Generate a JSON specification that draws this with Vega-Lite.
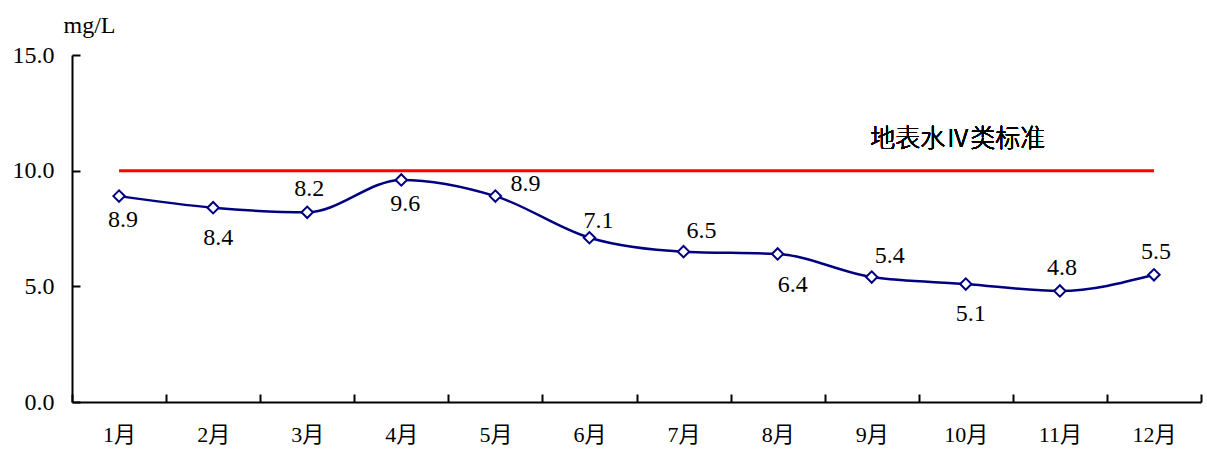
{
  "$schema": "https://vega.github.io/schema/vega-lite/v6.json",
  "autosize": {"type": "none"},
  "padding": {"left": 72, "top": 55, "right": 6, "bottom": 48},
  "width": 1129,
  "height": 347,
  "background": "white",
  "config": {
    "view": {"stroke": null},
    "font": "Liberation Serif",
    "axis": {"grid": false}
  },
  "data": {
    "values": [
      {"month": "1月", "value": 8.9},
      {"month": "2月", "value": 8.4},
      {"month": "3月", "value": 8.2},
      {"month": "4月", "value": 9.6},
      {"month": "5月", "value": 8.9},
      {"month": "6月", "value": 7.1},
      {"month": "7月", "value": 6.5},
      {"month": "8月", "value": 6.4},
      {"month": "9月", "value": 5.4},
      {"month": "10月", "value": 5.1},
      {"month": "11月", "value": 4.8},
      {"month": "12月", "value": 5.5}
    ]
  },
  "encoding": {
    "x": {
      "field": "month", "type": "ordinal", "sort": null,
      "scale": {"paddingInner": 0, "paddingOuter": 0},
      "axis": {
        "title": null, "labelAngle": 0, "tickBand": "extent",
        "domainColor": "black", "domainWidth": 2, "tickColor": "black", "tickWidth": 2,
        "tickSize": -8, "labelPadding": 30, "labelFontSize": 22, "labelColor": "black",
        "labelFont": "Liberation Serif, Noto Sans CJK SC"
      }
    },
    "y": {
      "field": "value", "type": "quantitative",
      "scale": {"domain": [0, 15], "nice": false},
      "axis": {
        "values": [0, 5, 10, 15], "format": ".1f",
        "title": "mg/L", "titleAngle": 0, "titleX": 17, "titleY": -23,
        "titleAlign": "center", "titleBaseline": "alphabetic",
        "titleFontSize": 24, "titleFontWeight": "normal", "titleColor": "black",
        "titleFont": "Liberation Serif",
        "domainColor": "black", "domainWidth": 2, "tickColor": "black", "tickWidth": 2,
        "tickSize": -8, "labelPadding": 26, "labelFontSize": 24, "labelColor": "black",
        "labelFont": "Liberation Serif"
      }
    }
  },
  "layer": [
    {
      "mark": {"type": "line", "color": "#ff0000", "strokeWidth": 3},
      "encoding": {"y": {"datum": 10}}
    },
    {
      "mark": {"type": "text", "text": "地表水Ⅳ类标准", "fontSize": 25, "fontWeight": 300, "dx": -8, "dy": -32, "color": "black", "baseline": "middle", "font": "Noto Sans CJK SC"},
      "encoding": {"x": {"datum": "10月"}, "y": {"datum": 10}}
    },
    {
      "mark": {"type": "line", "color": "#000080", "strokeWidth": 2.5, "interpolate": "monotone"}
    },
    {
      "mark": {"type": "point", "shape": "diamond", "size": 130, "filled": true, "fill": "white", "stroke": "#000080", "strokeWidth": 2, "opacity": 1}
    },
    {
      "transform": [{"filter": {"field": "month", "oneOf": ["1月", "4月"]}}],
      "mark": {"type": "text", "fontSize": 24, "dx": 4, "dy": 24, "color": "black", "baseline": "middle"},
      "encoding": {"text": {"field": "value", "type": "quantitative", "format": ".1f"}}
    },
    {
      "transform": [{"filter": {"field": "month", "oneOf": ["2月", "10月"]}}],
      "mark": {"type": "text", "fontSize": 24, "dx": 5, "dy": 30, "color": "black", "baseline": "middle"},
      "encoding": {"text": {"field": "value", "type": "quantitative", "format": ".1f"}}
    },
    {
      "transform": [{"filter": {"field": "month", "oneOf": ["8月"]}}],
      "mark": {"type": "text", "fontSize": 24, "dx": 15, "dy": 31, "color": "black", "baseline": "middle"},
      "encoding": {"text": {"field": "value", "type": "quantitative", "format": ".1f"}}
    },
    {
      "transform": [{"filter": {"field": "month", "oneOf": ["3月", "11月", "12月"]}}],
      "mark": {"type": "text", "fontSize": 24, "dx": 2, "dy": -23, "color": "black", "baseline": "middle"},
      "encoding": {"text": {"field": "value", "type": "quantitative", "format": ".1f"}}
    },
    {
      "transform": [{"filter": {"field": "month", "oneOf": ["7月", "9月"]}}],
      "mark": {"type": "text", "fontSize": 24, "dx": 18, "dy": -21, "color": "black", "baseline": "middle"},
      "encoding": {"text": {"field": "value", "type": "quantitative", "format": ".1f"}}
    },
    {
      "transform": [{"filter": {"field": "month", "oneOf": ["5月"]}}],
      "mark": {"type": "text", "fontSize": 24, "dx": 30, "dy": -12, "color": "black", "baseline": "middle"},
      "encoding": {"text": {"field": "value", "type": "quantitative", "format": ".1f"}}
    },
    {
      "transform": [{"filter": {"field": "month", "oneOf": ["6月"]}}],
      "mark": {"type": "text", "fontSize": 24, "dx": 9, "dy": -17, "color": "black", "baseline": "middle"},
      "encoding": {"text": {"field": "value", "type": "quantitative", "format": ".1f"}}
    }
  ]
}
